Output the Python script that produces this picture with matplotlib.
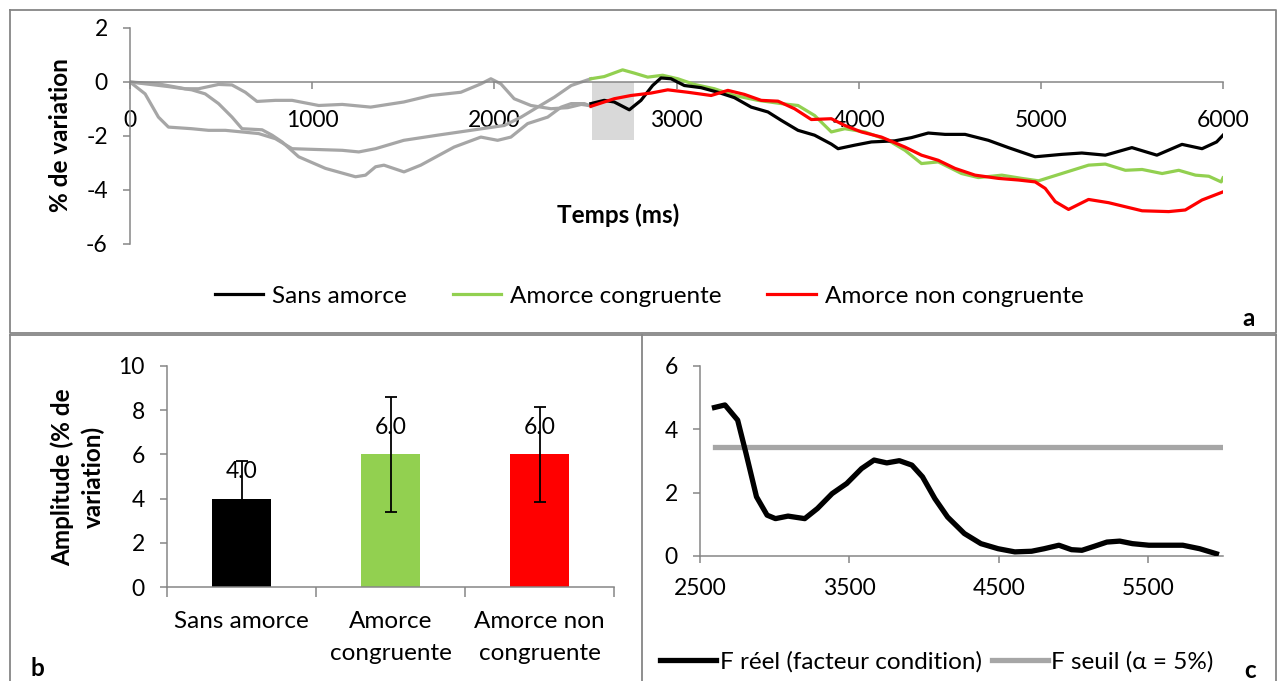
import matplotlib
matplotlib.use("Agg")
import matplotlib.pyplot as plt
from matplotlib.patches import Rectangle
from matplotlib.lines import Line2D

plt.rcParams['font.family'] = ['Lato', 'DejaVu Sans']
plt.rcParams['axes.unicode_minus'] = False

# ---- panel a : time course (% de variation) ----
# baseline (grey) traces, 0 - 2500 ms
g1_t = [0, 156, 303, 376, 486, 560, 633, 697, 798, 890, 1036, 1165, 1321, 1503, 1651, 1816, 1926, 1981,
        2036, 2109, 2201, 2311, 2403, 2477, 2530]
g1_v = [0, -0.07, -0.25, -0.25, -0.09, -0.11, -0.38, -0.72, -0.68, -0.68, -0.87, -0.83, -0.93, -0.74, -0.5,
        -0.38, -0.07, 0.12, -0.07, -0.62, -0.87, -0.99, -0.95, -0.83, -0.88]
g2_t = [0, 211, 339, 413, 486, 560, 615, 725, 780, 835, 926, 1073, 1238, 1293, 1348, 1394, 1504, 1596,
        1779, 1926, 2018, 2091, 2183, 2293, 2367, 2422, 2495, 2530]
g2_v = [0, -0.17, -0.29, -0.44, -0.8, -1.3, -1.73, -1.77, -1.97, -2.22, -2.77, -3.2, -3.51, -3.45, -3.14,
        -3.08, -3.33, -3.08, -2.41, -2.04, -2.16, -2.04, -1.54, -1.3, -0.93, -0.8, -0.8, -0.9]
g3_t = [0, 83, 156, 211, 339, 431, 523, 615, 706, 798, 890, 981, 1165, 1256, 1348, 1503, 1688, 1871,
        2055, 2147, 2238, 2330, 2422, 2530]
g3_v = [0, -0.44, -1.3, -1.67, -1.73, -1.79, -1.79, -1.85, -1.91, -2.1, -2.47, -2.49, -2.53, -2.59, -2.47,
        -2.16, -1.97, -1.79, -1.61, -1.3, -0.93, -0.56, -0.13, 0.12]

# conditions, 2500 - 6000 ms
sans_t = [2530, 2603, 2658, 2741, 2805, 2869, 2915, 2970, 3043, 3135, 3227, 3318, 3410, 3502, 3575, 3667,
          3758, 3850, 3887, 3978, 4070, 4198, 4290, 4382, 4474, 4584, 4712, 4822, 4969, 5115, 5225, 5354,
          5500, 5637, 5775, 5885, 5965, 6000]
sans_v = [-0.8, -0.68, -0.74, -1.03, -0.68, -0.13, 0.15, 0.12, -0.13, -0.21, -0.38, -0.58, -0.93, -1.11,
          -1.42, -1.79, -1.97, -2.3, -2.47, -2.34, -2.22, -2.18, -2.06, -1.89, -1.94, -1.94, -2.16, -2.43,
          -2.77, -2.68, -2.63, -2.71, -2.43, -2.71, -2.31, -2.47, -2.22, -1.97]
cong_t = [2530, 2603, 2704, 2768, 2842, 2924, 3007, 3098, 3208, 3318, 3447, 3575, 3667, 3758, 3850, 3924,
          4034, 4162, 4254, 4345, 4437, 4565, 4657, 4786, 4895, 4987, 5115, 5262, 5354, 5464, 5556, 5666,
          5757, 5849, 5922, 5990, 6000]
cong_v = [0.12, 0.2, 0.45, 0.33, 0.18, 0.25, 0.12, -0.09, -0.25, -0.5, -0.68, -0.8, -0.87, -1.24, -1.85,
          -1.73, -1.85, -2.16, -2.53, -3.02, -2.96, -3.39, -3.54, -3.45, -3.57, -3.66, -3.39, -3.08, -3.04,
          -3.27, -3.24, -3.39, -3.27, -3.45, -3.49, -3.7, -3.55]
noncong_t = [2530, 2585, 2658, 2750, 2860, 2952, 3062, 3190, 3282, 3373, 3465, 3557, 3648, 3740, 3850,
             3924, 4015, 4125, 4254, 4345, 4437, 4529, 4639, 4767, 4877, 4969, 5024, 5079, 5152, 5262,
             5372, 5556, 5702, 5793, 5885, 6000]
noncong_v = [-0.9, -0.78, -0.62, -0.5, -0.41, -0.29, -0.38, -0.5, -0.31, -0.46, -0.68, -0.71, -0.99, -1.39,
             -1.36, -1.61, -1.85, -2.04, -2.41, -2.71, -2.9, -3.2, -3.45, -3.57, -3.63, -3.7, -3.94, -4.43,
             -4.72, -4.35, -4.47, -4.77, -4.8, -4.74, -4.37, -4.07]

window_start, window_end, window_depth = 2535, 2765, -2.13

# ---- panel b : amplitude ----
conditions = ['Sans amorce', 'Amorce\ncongruente', 'Amorce non\ncongruente']
amplitude = [4.0, 6.0, 6.0]
amplitude_err = [1.7, 2.6, 2.15]

# ---- panel c : F statistic ----
f_t = [2597, 2667, 2752, 2808, 2878, 2949, 3005, 3089, 3201, 3286, 3384, 3482, 3581, 3665, 3750, 3834,
       3918, 3989, 4072, 4157, 4269, 4380, 4495, 4607, 4719, 4803, 4902, 4986, 5056, 5141, 5223, 5309,
       5394, 5504, 5618, 5731, 5844, 5956]
f_reel = [4.69, 4.77, 4.29, 3.24, 1.87, 1.29, 1.18, 1.26, 1.18, 1.5, 1.97, 2.29, 2.76, 3.03, 2.94, 3.01,
          2.87, 2.5, 1.81, 1.23, 0.71, 0.39, 0.23, 0.13, 0.15, 0.23, 0.34, 0.2, 0.18, 0.31, 0.44, 0.47,
          0.39, 0.34, 0.34, 0.34, 0.23, 0.07]
f_seuil_t = [2600, 6000]
f_seuil = [3.44, 3.44]

BLACK = '#000000'
GREEN = '#92d050'
RED = '#ff0000'
GREY = '#a6a6a6'
AXIS = '#868686'
FS = 16.5   # numbers
FT = 17.5   # words

W, H = 1278, 681
fig = plt.figure(figsize=(W / 100, H / 100), dpi=100)


def px(x0, y0, x1, y1):
    # axes rectangle from pixel corners (top-left origin)
    return [x0 / W, 1 - y1 / H, (x1 - x0) / W, (y1 - y0) / H]


def style(ax):
    for s in ['top', 'right']:
        ax.spines[s].set_visible(False)
    for s in ['left', 'bottom']:
        ax.spines[s].set_color(AXIS)
        ax.spines[s].set_linewidth(1.1)
    ax.tick_params(which='both', color=AXIS, width=1.1, length=5, labelsize=FS, pad=11)


# panel a
ax = fig.add_axes(px(130, 28, 1223, 244))
style(ax)
ax.spines['bottom'].set_position(('data', 0))
ax.add_patch(Rectangle((window_start, window_depth), window_end - window_start, -window_depth,
                       facecolor='#d9d9d9', edgecolor='none', zorder=1))
for t, v in [(g1_t, g1_v), (g2_t, g2_v), (g3_t, g3_v)]:
    ax.plot(t, v, color=GREY, lw=2.3, zorder=2, solid_joinstyle='round')
ax.plot(cong_t, cong_v, color=GREEN, lw=2.3, zorder=3, solid_joinstyle='round')
ax.plot(sans_t, sans_v, color=BLACK, lw=2.3, zorder=4, solid_joinstyle='round')
ax.plot(noncong_t, noncong_v, color=RED, lw=2.3, zorder=5, solid_joinstyle='round')
ax.set_xlim(0, 6000)
ax.set_ylim(-6, 2)
ax.set_xticks([0, 1000, 2000, 3000, 4000, 5000, 6000])
ax.set_yticks([-6, -4, -2, 0, 2])
ax.tick_params(axis='x', pad=15)
fig.text(60 / W, 1 - 135 / H, '% de variation', rotation=90, ha='center', va='center',
         fontsize=FT, fontweight='bold')
fig.text(618 / W, 1 - 215 / H, 'Temps (ms)', ha='center', va='center', fontsize=FT, fontweight='bold')
handles = [Line2D([], [], color=c, lw=2.3) for c in [BLACK, GREEN, RED]]
fig.legend(handles, ['Sans amorce', 'Amorce congruente', 'Amorce non congruente'],
           loc='center', bbox_to_anchor=(649 / W, 1 - 296 / H), ncol=3, frameon=False, fontsize=FT,
           handlelength=2.0, handletextpad=0.35, columnspacing=1.9)
fig.text(1249 / W, 1 - 318 / H, 'a', ha='center', va='center', fontsize=FT, fontweight='bold')

# panel b
bx = fig.add_axes(px(167, 366, 614, 587))
style(bx)
pos = range(len(conditions))
bx.bar(pos, amplitude, width=0.4, color=[BLACK, GREEN, RED], zorder=2)
bx.errorbar(pos, amplitude, yerr=amplitude_err, fmt='none', ecolor=BLACK, elinewidth=1.3,
            capsize=4, capthick=1.3, zorder=4)
for p, v in zip(pos, amplitude):
    bx.annotate('%.1f' % v, (p, v), xytext=(0, 19.5), textcoords='offset points',
                ha='center', va='center', fontsize=FS, zorder=3)
bx.set_xlim(-0.5, len(conditions) - 0.5)
bx.set_ylim(0, 10)
bx.set_yticks([0, 2, 4, 6, 8, 10])
bx.set_xticks(list(pos))
bx.set_xticklabels(conditions, linespacing=1.65, fontsize=FT)
bx.set_xticks([-0.5, 0.5, 1.5, 2.5], minor=True)
bx.tick_params(axis='x', which='major', length=0, pad=17)
bx.tick_params(axis='x', which='minor', length=7)
fig.text(78 / W, 1 - 477 / H, 'Amplitude (% de\nvariation)', rotation=90, ha='center', va='center',
         fontsize=FT, fontweight='bold', multialignment='center', linespacing=1.35)
fig.text(37 / W, 1 - 668 / H, 'b', ha='center', va='center', fontsize=FT, fontweight='bold')

# panel c
cx = fig.add_axes(px(700, 366, 1223, 556))
style(cx)
cx.plot(f_seuil_t, f_seuil, color=GREY, lw=3.8, zorder=2)
cx.plot(f_t, f_reel, color=BLACK, lw=3.8, zorder=3, solid_joinstyle='round')
cx.set_xlim(2500, 6000)
cx.set_ylim(0, 6)
cx.set_xticks([2500, 3500, 4500, 5500])
cx.set_yticks([0, 2, 4, 6])
cx.tick_params(axis='x', pad=10.5)
handles = [Line2D([], [], color=BLACK, lw=3.8), Line2D([], [], color=GREY, lw=3.8)]
fig.legend(handles, ['F réel (facteur condition)', 'F seuil (α = 5%)'], loc='center',
           bbox_to_anchor=(937 / W, 1 - 662 / H), ncol=2, frameon=False, fontsize=FT,
           handlelength=2.3, handletextpad=0.15, columnspacing=0.4)
fig.text(1250 / W, 1 - 670 / H, 'c', ha='center', va='center', fontsize=FT, fontweight='bold')

# panel frames
frame = dict(color=AXIS, lw=1.3, transform=fig.transFigure, clip_on=False)
for xs, ys in [([10, 1276, 1276, 10, 10], [10, 10, 333, 333, 10]),
               ([10, 1276], [335, 335]),
               ([10, 10], [335, 681]),
               ([642, 642], [335, 681]),
               ([1276, 1276], [335, 681])]:
    fig.add_artist(Line2D([x / W for x in xs], [1 - y / H for y in ys], **frame))

fig.savefig('out.png', dpi=100)
